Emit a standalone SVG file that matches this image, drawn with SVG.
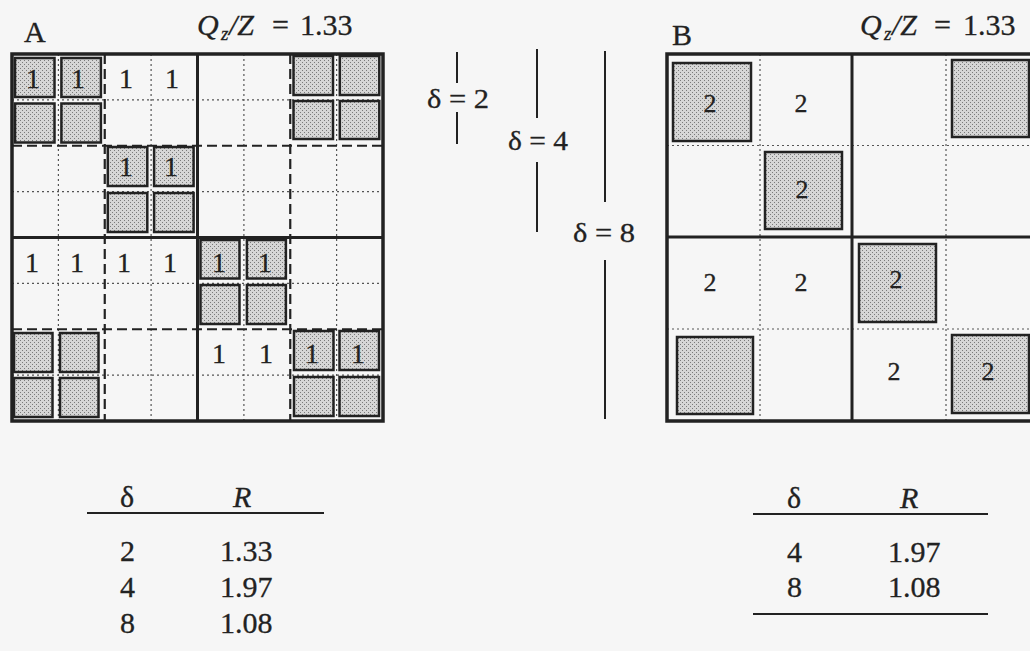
<svg xmlns="http://www.w3.org/2000/svg" width="1030" height="651" viewBox="0 0 1030 651">
<defs>
<pattern id="stip" width="4" height="4" patternUnits="userSpaceOnUse">
<rect width="4" height="4" fill="#d6d6d6"/>
<rect x="0" y="0" width="1" height="1" fill="#7a7a7a"/>
<rect x="2" y="2" width="1" height="1" fill="#7a7a7a"/>
</pattern>
</defs>
<style>
text{font-family:"Liberation Serif","Times New Roman",serif;fill:#222;stroke:#222;stroke-width:0.3}
.lbl{font-size:30px}
.num1{font-size:28px;text-anchor:middle}
.num2{font-size:26px;text-anchor:middle}
.tbl{font-size:30px}
.dlt{font-size:28px}
.it{font-style:italic}
.dot{stroke:#555;stroke-width:1.2;stroke-dasharray:2 3;fill:none}
.dash{stroke:#222;stroke-width:2.2;stroke-dasharray:10 5;fill:none}
.thick{stroke:#222;stroke-width:3;fill:none}
.frame{stroke:#222;stroke-width:3.5;fill:none}
.sq{fill:url(#stip);stroke:#222;stroke-width:2.5}
.rule{stroke:#222;stroke-width:2}
.bar{stroke:#222;stroke-width:2}
</style>
<rect width="1030" height="651" fill="#f6f6f6"/>

<g id="panelA">
<text class="lbl" x="24" y="42">A</text>
<text class="lbl" y="35" font-size="31"><tspan class="it" x="197">Q</tspan><tspan class="it" x="221" dy="5" font-size="19">z</tspan><tspan class="it" x="229" dy="-5">/Z</tspan><tspan x="272">=</tspan><tspan x="300">1.33</tspan></text>
<g id="gridA">
<path class="dot" d="M58.4 54V421M151.1 54V421M243.9 54V421M336.6 54V421M12 99.9H383M12 191.6H383M12 283.4H383M12 375.1H383"/>
<path class="dash" d="M104.75 54V421M290.25 54V421M12 145.75H383M12 329.25H383"/>
<path class="thick" d="M197.5 54V421M12 237.5H383"/>
<rect class="frame" x="12" y="54" width="371" height="367"/>
</g>
<g id="shadedA">
<rect class="sq" x="15" y="58" width="39.5" height="39"/>
<rect class="sq" x="61.4" y="58" width="39.5" height="39"/>
<rect class="sq" x="15" y="103.5" width="39.5" height="39"/>
<rect class="sq" x="61.4" y="103.5" width="39.5" height="39"/>
<rect class="sq" x="293.5" y="56" width="39.5" height="39"/>
<rect class="sq" x="339.8" y="56" width="39.5" height="39"/>
<rect class="sq" x="293.5" y="101" width="39.5" height="38"/>
<rect class="sq" x="339.8" y="101" width="39.5" height="38"/>
<rect class="sq" x="107.8" y="147" width="39.5" height="39"/>
<rect class="sq" x="154.1" y="147" width="39.5" height="39"/>
<rect class="sq" x="107.8" y="193" width="39.5" height="39"/>
<rect class="sq" x="154.1" y="193" width="39.5" height="39"/>
<rect class="sq" x="200.5" y="240" width="39" height="38.5"/>
<rect class="sq" x="246.9" y="240" width="39" height="38.5"/>
<rect class="sq" x="200.5" y="285" width="39" height="39"/>
<rect class="sq" x="246.9" y="285" width="39" height="39"/>
<rect class="sq" x="14" y="333" width="38.5" height="39"/>
<rect class="sq" x="60" y="333" width="38.5" height="39"/>
<rect class="sq" x="14" y="378" width="38.5" height="39"/>
<rect class="sq" x="60" y="378" width="38.5" height="39"/>
<rect class="sq" x="294" y="331" width="39.5" height="39"/>
<rect class="sq" x="339.5" y="331" width="39.5" height="39"/>
<rect class="sq" x="294" y="377" width="39.5" height="39"/>
<rect class="sq" x="339.5" y="377" width="39.5" height="39"/>
</g>
<g id="numsA">
<text class="num1" x="33" y="88">1</text>
<text class="num1" x="78" y="88">1</text>
<text class="num1" x="126" y="88">1</text>
<text class="num1" x="172" y="88">1</text>
<text class="num1" x="126" y="176">1</text>
<text class="num1" x="171" y="176">1</text>
<text class="num1" x="32" y="272">1</text>
<text class="num1" x="77" y="272">1</text>
<text class="num1" x="124" y="272">1</text>
<text class="num1" x="170" y="272">1</text>
<text class="num1" x="219" y="272">1</text>
<text class="num1" x="265" y="272">1</text>
<text class="num1" x="219" y="363">1</text>
<text class="num1" x="266" y="363">1</text>
<text class="num1" x="312" y="363">1</text>
<text class="num1" x="358" y="363">1</text>
</g>
</g>

<g id="panelB">
<text class="lbl" x="672" y="45">B</text>
<text class="lbl" y="35" font-size="31"><tspan class="it" x="860">Q</tspan><tspan class="it" x="884" dy="5" font-size="19">z</tspan><tspan class="it" x="892" dy="-5">/Z</tspan><tspan x="934">=</tspan><tspan x="963">1.33</tspan></text>
<g id="gridB">
<path class="dot" d="M760 54V421M946 54V421M667 145.5H1030M667 329H1030"/>
<path class="thick" d="M852 54V421M667 237H1030"/>
<path class="frame" d="M1034 54H667V421H1034"/>
</g>
<g id="shadedB">
<rect class="sq" x="673" y="63" width="78" height="78"/>
<rect class="sq" x="952" y="60" width="77" height="77"/>
<rect class="sq" x="765" y="152" width="77" height="77"/>
<rect class="sq" x="859" y="244" width="77" height="78"/>
<rect class="sq" x="677" y="337" width="76" height="77"/>
<rect class="sq" x="952" y="335" width="77" height="78"/>
</g>
<g id="numsB">
<text class="num2" x="710" y="112">2</text>
<text class="num2" x="801" y="112">2</text>
<text class="num2" x="802" y="198">2</text>
<text class="num2" x="710" y="291">2</text>
<text class="num2" x="801" y="291">2</text>
<text class="num2" x="896" y="288">2</text>
<text class="num2" x="894" y="380">2</text>
<text class="num2" x="988" y="380">2</text>
</g>
</g>

<g id="connectors">
<path class="bar" d="M457 52V83M457 112V144M537 49V118M537 162V232M605 51V202M605 260V419"/>
</g>
<g id="deltaLabels">
<text class="dlt" x="427" y="108" textLength="62" lengthAdjust="spacingAndGlyphs">δ = 2</text>
<text class="dlt" x="508" y="150" textLength="60" lengthAdjust="spacingAndGlyphs">δ = 4</text>
<text class="dlt" x="573" y="242" textLength="62" lengthAdjust="spacingAndGlyphs">δ = 8</text>
</g>

<g id="tableA">
<line class="rule" x1="87" y1="513" x2="324" y2="513"/>
<text class="tbl" x="120" y="507">δ</text>
<text class="tbl it" x="233" y="507">R</text>
<text class="tbl" x="120" y="561">2</text>
<text class="tbl" x="220" y="561">1.33</text>
<text class="tbl" x="120" y="597">4</text>
<text class="tbl" x="220" y="597">1.97</text>
<text class="tbl" x="120" y="633">8</text>
<text class="tbl" x="220" y="633">1.08</text>
</g>
<g id="tableB">
<line class="rule" x1="753" y1="514" x2="988" y2="514"/>
<text class="tbl" x="787" y="508">δ</text>
<text class="tbl it" x="900" y="508">R</text>
<text class="tbl" x="787" y="562">4</text>
<text class="tbl" x="888" y="562">1.97</text>
<text class="tbl" x="787" y="597">8</text>
<text class="tbl" x="888" y="597">1.08</text>
<line class="rule" x1="753" y1="614" x2="988" y2="614"/>
</g>
</svg>
